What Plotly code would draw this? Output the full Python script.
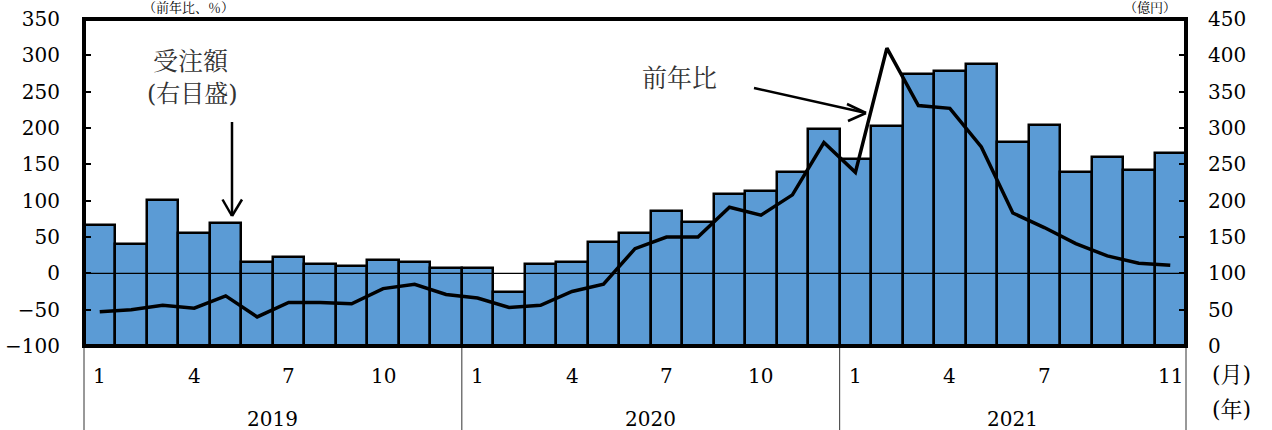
import plotly.graph_objects as go

# Monthly series, Jan 2019 - Nov 2021
years = [2019] * 12 + [2020] * 12 + [2021] * 11
months = [1, 2, 3, 4, 5, 6, 7, 8, 9, 10, 11, 12,
          1, 2, 3, 4, 5, 6, 7, 8, 9, 10, 11, 12,
          1, 2, 3, 4, 5, 6, 7, 8, 9, 10, 11]

# 受注額 (億円, right scale)
orders = [167, 141, 201, 156, 169, 116, 123, 113, 110, 119, 116, 107,
          107, 74, 113, 116, 143, 156, 186, 171, 209, 213, 239, 299,
          258, 303, 375, 379, 388, 281, 304, 240, 260, 242, 265]

# 前年比 (%, left scale)
yoy = [-53, -50, -44, -48, -31, -60, -40, -40, -42, -21, -15, -29,
       -34, -47, -44, -25, -15, 34, 50, 50, 91, 80, 108, 180,
       139, 310, 231, 227, 174, 83, 63, 41, 24, 14, 11]

left_ticks = [-100, -50, 0, 50, 100, 150, 200, 250, 300, 350]
right_ticks = [0, 50, 100, 150, 200, 250, 300, 350, 400, 450]
month_label_idx = [0, 3, 6, 9, 12, 15, 18, 21, 24, 27, 30, 34]
year_labels = [2019, 2020, 2021]

FONT = "'DejaVu Serif', 'Noto Serif CJK JP', 'Noto Sans CJK JP', serif"
BAR_COLOR = "#5B9BD5"

# plot-area geometry in pixels (used for placing callouts)
W, H = 1272, 430
L, R, T, B = 84, 1186, 19, 346


def px(x):
    return (x - L) / (R - L)


def py(y):
    return (B - y) / (B - T)


xs = list(range(len(months)))

fig = go.Figure()
fig.add_trace(go.Bar(
    x=xs, y=orders, name="受注額", yaxis="y",
    marker=dict(color=BAR_COLOR, line=dict(color="black", width=2.5)),
))
fig.add_trace(go.Scatter(
    x=xs, y=yoy, name="前年比", yaxis="y2", mode="lines",
    line=dict(color="black", width=3.5),
))

shapes = []
# zero line of the left scale
shapes.append(dict(type="line", xref="paper", yref="y2", x0=0, x1=1, y0=0, y1=0,
                   line=dict(color="black", width=1.2), layer="above"))
# year separators below the axis
n = len(months)
bounds = [0]
for i in range(1, n):
    if years[i] != years[i - 1]:
        bounds.append(i)
bounds.append(n)
for b in bounds:
    xp = b / n
    shapes.append(dict(type="line", xref="paper", yref="paper", x0=xp, x1=xp,
                       y0=-0.3, y1=0, line=dict(color="#333", width=1)))
# frame
shapes.append(dict(type="rect", xref="paper", yref="paper", x0=0, x1=1, y0=0, y1=1,
                   line=dict(color="black", width=4), layer="above"))


def arrow(x0, y0, x1, y1, w1, w2):
    out = [dict(type="line", xref="paper", yref="paper",
                x0=px(x0), y0=py(y0), x1=px(x1), y1=py(y1),
                line=dict(color="black", width=2.5), layer="above")]
    for (wx, wy) in (w1, w2):
        out.append(dict(type="line", xref="paper", yref="paper",
                        x0=px(wx), y0=py(wy), x1=px(x1), y1=py(y1),
                        line=dict(color="black", width=2.5), layer="above"))
    return out


shapes += arrow(232, 122, 232, 216, (222.5, 199.5), (242, 199.5))
shapes += arrow(754, 88, 866, 113, (847, 104), (848, 121))

annotations = []


def text(s, x, y, size=21, xanchor="center", color="black"):
    annotations.append(dict(text=s, x=px(x), y=py(y), xref="paper", yref="paper",
                            showarrow=False, xanchor=xanchor, yanchor="middle",
                            font=dict(family=FONT, size=size, color=color)))


text("受注額", 191, 61, size=25, color="#333")
text("(右目盛)", 192, 94, size=24, color="#333")
text("前年比", 679, 78, size=25, color="#333")
text("（前年比、％）", 188, 8, size=13)
text("（億円）", 1150, 8, size=13)

for i in month_label_idx:
    text(str(months[i]), L + (i + 0.5) * (R - L) / n, 376, size=20)
for k, yr in enumerate(year_labels):
    xc = L + (bounds[k] + bounds[k + 1]) / 2 * (R - L) / n
    text(str(yr), xc, 419, size=20)
text("(月)", 1210, 374, size=22, xanchor="left")
text("(年)", 1210, 409, size=22, xanchor="left")

fig.update_layout(
    width=W, height=H,
    margin=dict(l=L, r=W - R, t=T, b=H - B, autoexpand=False),
    paper_bgcolor="white", plot_bgcolor="white",
    showlegend=False, bargap=0,
    font=dict(family=FONT, size=20, color="black"),
    xaxis=dict(range=[-0.5, n - 0.5], showticklabels=False, ticks="",
               showgrid=False, zeroline=False, showline=False, fixedrange=True,
               automargin=False),
    yaxis=dict(side="right", range=[0, 450], tickvals=right_ticks,
               ticks="inside", ticklen=7, tickwidth=1.5, tickcolor="black",
               showgrid=False, zeroline=False, showline=False, automargin=False,
               ticklabelstandoff=21, tickfont=dict(size=20)),
    yaxis2=dict(side="left", overlaying="y", range=[-100, 350], tickvals=left_ticks,
                ticks="inside", ticklen=7, tickwidth=1.5, tickcolor="black",
                showgrid=False, zeroline=False, showline=False, automargin=False,
                ticklabelstandoff=23, tickfont=dict(size=20)),
    shapes=shapes, annotations=annotations,
)

fig.write_html("out.html")
